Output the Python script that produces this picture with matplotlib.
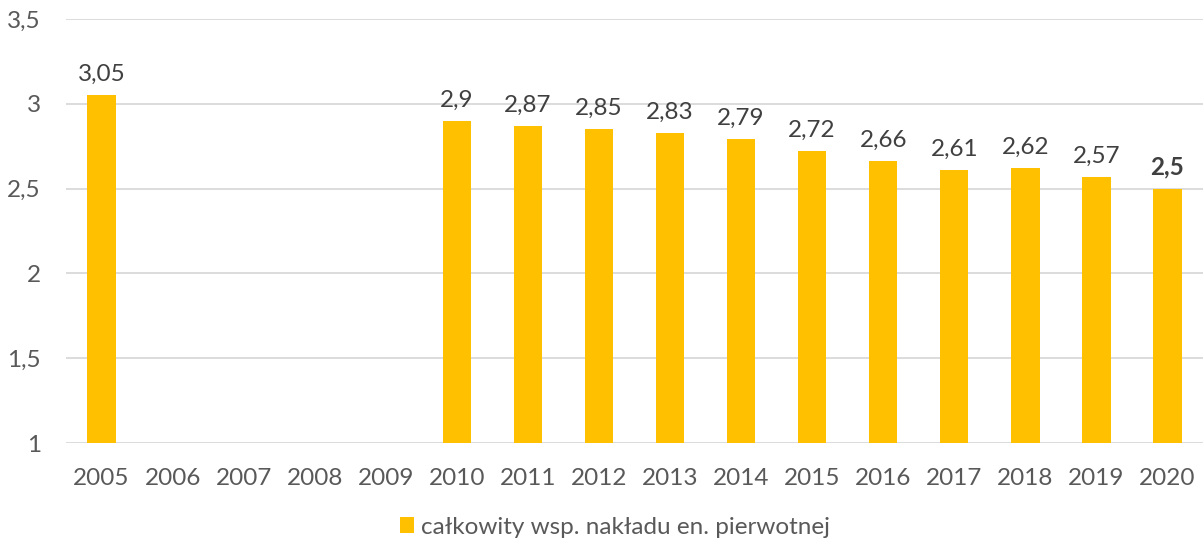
import matplotlib
matplotlib.use("Agg")
import matplotlib.pyplot as plt

years = ["2005", "2006", "2007", "2008", "2009", "2010", "2011", "2012", "2013",
         "2014", "2015", "2016", "2017", "2018", "2019", "2020"]
values = [3.05, None, None, None, None, 2.9, 2.87, 2.85, 2.83, 2.79, 2.72,
          2.66, 2.61, 2.62, 2.57, 2.5]
labels = ["3,05", "", "", "", "", "2,9", "2,87", "2,85", "2,83", "2,79", "2,72",
          "2,66", "2,61", "2,62", "2,57", "2,5"]
yticks = [1, 1.5, 2, 2.5, 3, 3.5]
ytick_labels = ["1", "1,5", "2", "2,5", "3", "3,5"]
series_name = "całkowity wsp. nakładu en. pierwotnej"

plt.rcParams['font.family'] = ['Lato', 'DejaVu Sans']
FS = 17.5

fig = plt.figure(figsize=(12.03, 5.43), dpi=100)
ax = fig.add_axes([66/1203, 1 - 443/543, (1203-66)/1203, (443-19)/543])

bottom = 1.0
xs = list(range(len(years)))
bx = [x for x, v in zip(xs, values) if v is not None]
bh = [v - bottom for v in values if v is not None]
bars = ax.bar(bx, bh, bottom=bottom, width=0.4, color="#FFC000",
              label=series_name, zorder=3)

for x, v, lab in zip(xs, values, labels):
    if v is None:
        continue
    bold = (x == len(years) - 1)
    ax.text(x, v + 0.06, lab, ha="center", va="bottom", fontsize=FS,
            color="#404040", fontweight="bold" if bold else "normal")

ax.set_xlim(-0.5, len(years) - 0.5)
ax.set_ylim(1, 3.5)
ax.set_yticks(yticks)
ax.set_yticklabels(ytick_labels)
ax.set_xticks(xs)
ax.set_xticklabels(years)
ax.tick_params(axis="both", length=0, labelsize=FS, labelcolor="#595959")
ax.tick_params(axis="y", pad=18)
ax.tick_params(axis="x", pad=18)
ax.yaxis.grid(True, color="#D9D9D9", linewidth=1.3, zorder=0)
for s in ax.spines.values():
    s.set_visible(False)

leg = fig.legend(handles=[bars], labels=[series_name], loc="center",
                 bbox_to_anchor=(615/1203, 1 - 527/543), frameon=False,
                 fontsize=FS, handlelength=0.6, handleheight=0.6,
                 handletextpad=0.3, labelcolor="#595959")

fig.savefig("out.png", dpi=100)
